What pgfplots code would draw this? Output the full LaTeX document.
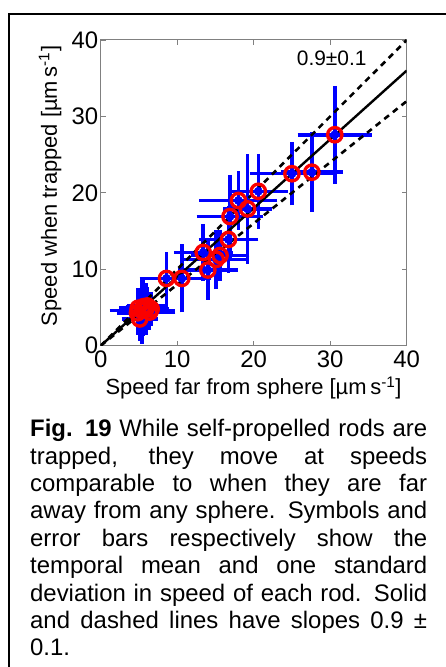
\documentclass[border=0pt]{standalone}
\usepackage{pgfplots}
\pgfplotsset{compat=1.18}
\usepackage{fontspec}
\setmainfont{Liberation Sans}
\definecolor{axisgray}{RGB}{128,128,128}
\definecolor{ebblue}{RGB}{0,0,255}
\definecolor{cred}{RGB}{250,0,0}
\pgfplotstableread{
x y ex ey
30.6 27.6 4.0 5.55
27.6 22.7 3.2 4.35
25.0 22.5 4.7 3.3
20.6 20.2 3.05 4.05
19.2 17.9 2.3 6.3
18.0 19.0 4.25 3.0
16.9 16.9 3.5 4.6
16.7 13.9 3.05 3.5
13.4 12.2 3.0 2.9
14.0 9.9 3.05 3.05
15.1 11.3 3.4 3.05
15.6 11.8 3.0 2.5
8.6 8.8 2.65 2.6
10.6 8.8 3.0 3.6
5.4 4.6 3.4 3.5
4.8 4.3 1.8 2.0
5.9 4.8 2.0 2.5
6.4 4.4 2.5 1.5
5.1 3.5 1.5 2.0
5.6 5.1 1.5 3.0
4.9 4.9 1.6 1.8
6.1 5.2 1.8 1.6
6.6 4.8 1.5 1.4
}\rods
\begin{document}
\begin{tikzpicture}[x=1bp,y=1bp]
\path[use as bounding box] (0,0) rectangle (446,667);
\fill[white] (0,0) rectangle (446,667);
\draw[line width=1.8bp] (9.2,0) -- (9.2,653.2) -- (446,653.2);
\begin{axis}[
  at={(100.7bp,321.3bp)}, anchor=south west,
  scale only axis, width=306bp, height=305.7bp,
  xmin=0, xmax=40, ymin=0, ymax=40,
  xtick={0,10,20,30,40}, ytick={0,10,20,30,40},
  tick align=inside, major tick length=5bp,
  axis line style={draw=axisgray, line width=1bp},
  every tick/.style={axisgray, line width=0.8bp},
  ticklabel style={font=\fontsize{24}{24}\selectfont, text=black},
  yticklabel style={xshift=1bp},
  xticklabel style={yshift=-2bp},
  /pgf/number format/assume math mode=true,
]
\addplot[only marks, mark=*, mark size=4.2bp, ebblue,
  error bars/.cd, x dir=both, x explicit, y dir=both, y explicit,
  error bar style={line width=3.5bp, ebblue},
  error mark options={ebblue, mark size=6.5bp, line width=3.5bp}]
  table[x=x, y=y, x error=ex, y error=ey] {\rods};
\addplot[black, line width=2.4bp] coordinates {(0,0) (40,36)};
\addplot[black, line width=2.6bp, dash pattern=on 6bp off 5bp] coordinates {(0,0) (40,40)};
\addplot[black, line width=2.6bp, dash pattern=on 6bp off 5bp] coordinates {(0,0) (40,32)};
\addplot[only marks, mark=o, mark size=7.2bp, cred, mark options={line width=3.3bp}]
  table[x=x, y=y] {\rods};
\node[font=\fontsize{21}{21}\selectfont] at (axis cs:30.2,37.6) {0.9±0.1};
\end{axis}
\node[rotate=90, font=\fontsize{22}{22}\selectfont] at (50,481) {Speed when trapped [µm\,s\textsuperscript{-1}]};
\node[anchor=base, font=\fontsize{22}{22}\selectfont] at (253.5,272) {Speed far from sphere [µm\,s\textsuperscript{-1}]};
\node[anchor=base west, inner sep=0, text width=397bp, align=justify, font=\fontsize{24}{27.5}\selectfont] at (30,230.3) {\tolerance=10000\hyphenpenalty=10000\textbf{Fig. 19} While self-propelled rods are\linebreak trapped, they move at speeds\linebreak comparable to when they are far\linebreak away from any sphere. Symbols and\linebreak error bars respectively show the\linebreak temporal mean and one standard\linebreak deviation in speed of each rod. Solid\linebreak and dashed lines have slopes 0.9 ±\linebreak 0.1.};
\end{tikzpicture}
\end{document}
